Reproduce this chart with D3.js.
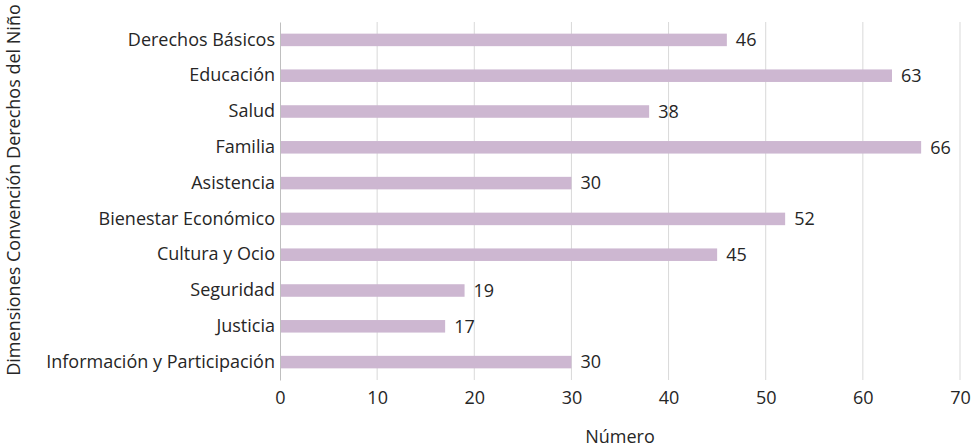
<!DOCTYPE html>
<html><head><meta charset="utf-8">
<script src="https://cdn.jsdelivr.net/npm/d3@7"></script>
<style>body{margin:0;background:#fff;} text{font-family:"Segoe UI","Open Sans","Noto Sans",sans-serif;fill:#262626;}</style>
</head><body><svg id="c" width="980" height="448"></svg>
<script>
const categories = ["Derechos Básicos","Educación","Salud","Familia","Asistencia","Bienestar Económico","Cultura y Ocio","Seguridad","Justicia","Información y Participación"];
const values = [46,63,38,66,30,52,45,19,17,30];
const xTicks = [0,10,20,30,40,50,60,70];
const xTitle = "Número";
const yTitle = "Dimensiones Convención Derechos del Niño";

const FS = 18;
const svg = d3.select("#c");
const m = {left:280, right:20, top:22, bottom:68};
const W = 980, H = 448;
const x = d3.scaleLinear().domain([0,70]).range([m.left, W - m.right]);
const y = d3.scaleBand().domain(categories).range([m.top, H - m.bottom]).paddingInner(0.65).paddingOuter(0.325);

// gridlines
svg.append("g").selectAll("line").data(xTicks.slice(1)).join("line")
  .attr("x1", d=>x(d)).attr("x2", d=>x(d)).attr("y1", m.top).attr("y2", H - m.bottom)
  .attr("stroke", "#d9d9d9").attr("stroke-width", 1);

// bars
svg.append("g").selectAll("rect").data(values).join("rect")
  .attr("x", x(0)).attr("y", (d,i)=>y(categories[i]))
  .attr("width", d=>x(d)-x(0)).attr("height", y.bandwidth())
  .attr("fill", "#cdb7d1");

// value labels
svg.append("g").selectAll("text").data(values).join("text")
  .attr("x", d=>x(d)+9).attr("y", (d,i)=>y(categories[i])+y.bandwidth()/2)
  .attr("dy","0.35em").attr("font-size", FS).text(d=>d);

// y axis
const ya = svg.append("g").attr("transform", `translate(${m.left},0)`)
  .call(d3.axisLeft(y).tickSize(0).tickPadding(5));
ya.select(".domain").attr("stroke", "#bfbfbf");
ya.attr("font-family", null).attr("font-size", FS);
ya.selectAll("text").attr("fill","#262626");

// x axis
const xa = svg.append("g").attr("transform", `translate(0,${H - m.bottom})`)
  .call(d3.axisBottom(x).tickValues(xTicks).tickSize(0).tickPadding(11));
xa.select(".domain").remove();
xa.attr("font-family", null).attr("font-size", FS);
xa.selectAll("text").attr("fill","#262626");

svg.append("text").attr("x", (x(0)+x(70))/2).attr("y", 437).attr("dy","0.35em")
  .attr("text-anchor","middle").attr("font-size", FS).text(xTitle);
svg.append("text").attr("transform", `translate(14,190) rotate(-90)`).attr("dy","0.35em")
  .attr("text-anchor","middle").attr("font-size", FS).text(yTitle);
</script></body></html>
